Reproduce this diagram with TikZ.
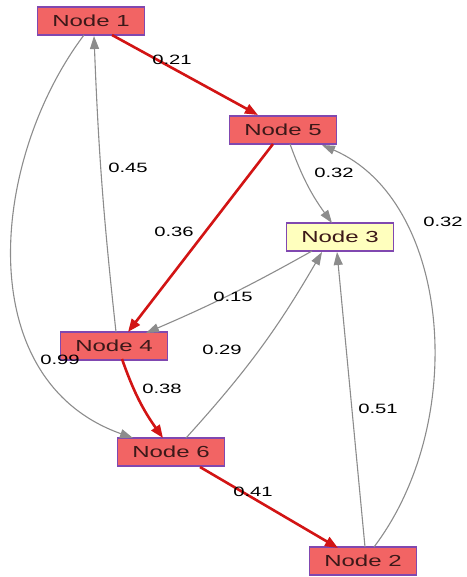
\documentclass[tikz,border=0pt]{standalone}
\usepackage{fontspec}
\setmainfont{Liberation Sans}
\newfontfamily\widefont[FakeStretch=1.5]{Liberation Sans}
\usetikzlibrary{arrows.meta}
\definecolor{nodered}{RGB}{242,100,100}
\definecolor{nodeyellow}{RGB}{255,255,190}
\definecolor{nodeborder}{RGB}{128,72,176}
\definecolor{edgered}{RGB}{210,20,20}
\definecolor{edgegray}{RGB}{140,140,140}
\definecolor{nodetext}{RGB}{60,25,25}
\tikzset{
  gnode/.style={draw=nodeborder, line width=1.3pt, fill=nodered, minimum width=107pt,
    minimum height=28pt, inner sep=0pt, text=nodetext, font=\widefont\fontsize{16}{16}\selectfont},
  hnode/.style={gnode, fill=nodeyellow},
  redge/.style={draw=edgered, line width=2.6pt, -{Triangle[length=13pt,width=10pt]}},
  gedge/.style={draw=edgegray, line width=1.1pt, -{Triangle[length=13pt,width=9pt]}},
  wlabel/.style={font=\widefont\fontsize{13.5}{13.5}\selectfont, text=black, inner sep=0pt}
}
\begin{document}
\begin{tikzpicture}[x=1pt,y=-1pt]
\path[use as bounding box] (0,0) rectangle (466,577);

% vertices
\node[gnode] (n1) at (91,21) {Node 1};
\node[gnode] (n5) at (283,130) {Node 5};
\node[hnode] (n3) at (340,237) {Node 3};
\node[gnode] (n4) at (114,346) {Node 4};
\node[gnode] (n6) at (171,452) {Node 6};
\node[gnode] (n2) at (363,561) {Node 2};

% anchor points on the box borders
\coordinate (a1) at (112,35);
\coordinate (b5) at (258,115);
\coordinate (c5) at (273,144);
\coordinate (d4) at (128,332);
\coordinate (e5) at (290,144);
\coordinate (f3) at (332,223);
\coordinate (g2) at (374,547);
\coordinate (h5) at (322,145);
\coordinate (i4) at (116,332);
\coordinate (j1) at (94,36);
\coordinate (k1) at (84,35);
\coordinate (l6) at (133,438);
\coordinate (m3) at (312,251);
\coordinate (n4c) at (146,333);
\coordinate (o4) at (122,359);
\coordinate (p6) at (163,438);
\coordinate (q6) at (186,438);
\coordinate (r3) at (322,252);
\coordinate (s2) at (365,547);
\coordinate (t3) at (337,252);
\coordinate (u6) at (200,467);
\coordinate (v2) at (338,548);

% gray connectors
\draw[gedge] (e5) to[bend right=8] (f3);
\draw[gedge] (g2) .. controls (470,420) and (450,200) .. (h5);
\draw[gedge] (i4) to[bend left=2] (j1);
\draw[gedge] (k1) .. controls (-10,160) and (-30,380) .. (l6);
\draw[gedge] (m3) to[bend left=3] (n4c);
\draw[gedge] (q6) to[bend right=6] (r3);
\draw[gedge] (s2) -- (t3);

% red connectors
\draw[redge] (a1) -- (b5);
\draw[redge] (c5) -- (d4);
\draw[redge] (o4) to[bend right=8] (p6);
\draw[redge] (u6) -- (v2);

% weights
\node[wlabel] (w21) at (172,60) {0.21};
\node[wlabel] (w45) at (128,168) {0.45};
\node[wlabel] (w36) at (174,232) {0.36};
\node[wlabel] (w32a) at (334,173) {0.32};
\node[wlabel] (w32b) at (443,222) {0.32};
\node[wlabel] (w15) at (233,297) {0.15};
\node[wlabel] (w29) at (222,350) {0.29};
\node[wlabel] (w99) at (60,360) {0.99};
\node[wlabel] (w38) at (162,389) {0.38};
\node[wlabel] (w51) at (378,409) {0.51};
\node[wlabel] (w41) at (253,492) {0.41};
\end{tikzpicture}
\end{document}
